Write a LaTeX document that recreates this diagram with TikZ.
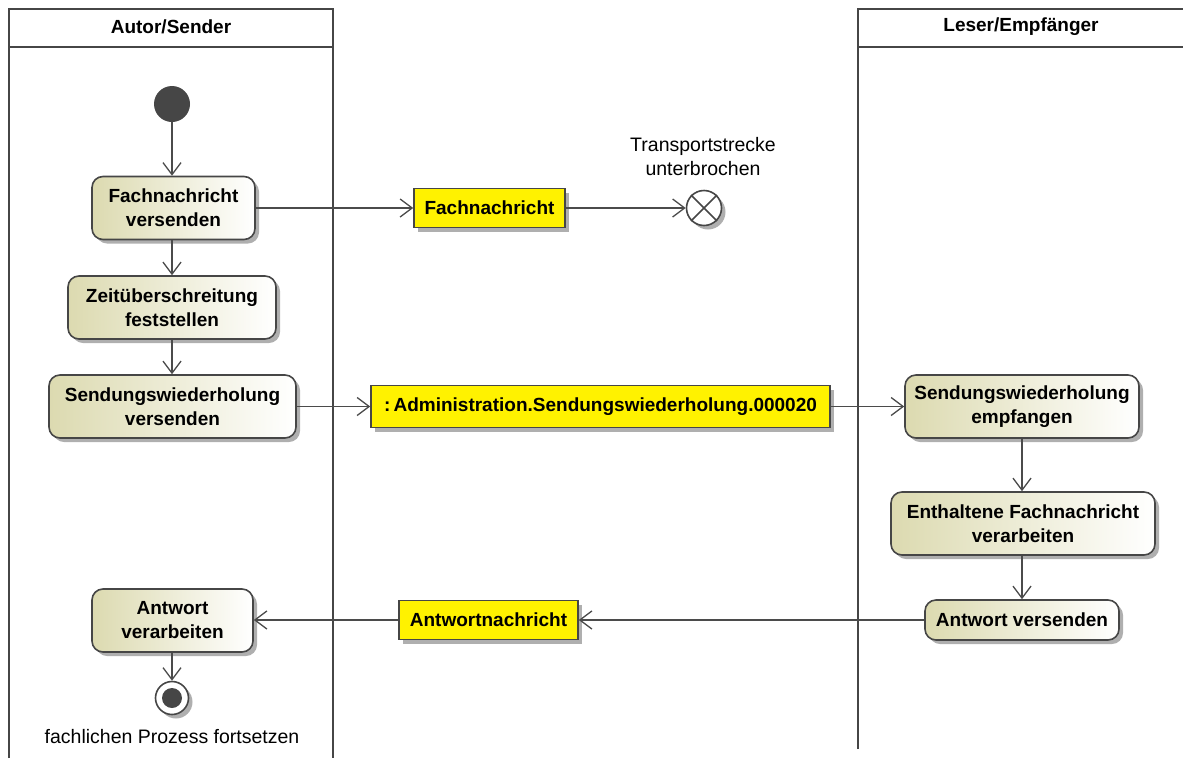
\documentclass[tikz,border=0pt]{standalone}
\usepackage{fontspec}
\setmainfont{Liberation Sans}
\usetikzlibrary{arrows.meta,shadows}
\definecolor{lanecol}{RGB}{70,70,70}
\definecolor{linecol}{RGB}{75,75,75}
\definecolor{actleft}{RGB}{220,218,176}
\definecolor{shadowcol}{RGB}{175,175,175}
\tikzset{
  lane/.style={draw=lanecol, line width=2.6pt},
  shad/.style={drop shadow={shadow xshift=4pt, shadow yshift=-4pt, fill=shadowcol, opacity=1}},
  action/.style={draw=lanecol, line width=1.6pt, rounded corners=11pt, shad,
    left color=actleft, right color=white, align=center,
    font=\fontsize{19}{24}\selectfont\bfseries, inner sep=0pt},
  objnode/.style={draw=lanecol, line width=1.6pt, fill=yellow, shad,
    font=\fontsize{19}{24}\selectfont\bfseries, inner sep=0pt},
  flow/.style={draw=linecol, line width=1.3pt, -{Straight Barb[length=12pt,width=18pt,line width=1.3pt]}},
  plain/.style={font=\fontsize{19.5}{24}\selectfont, align=center},
  hdr/.style={font=\fontsize{19}{24}\selectfont\bfseries}
}
\begin{document}
\begin{tikzpicture}[x=1pt,y=-1pt]
\useasboundingbox (0,0) rectangle (1183,758);
% lanes
\draw[lane] (9,758) -- (9,9) -- (333,9) -- (333,758);
\draw[lane] (9,47) -- (333,47);
\draw[lane] (858,749) -- (858,9) -- (1185,9);
\draw[lane] (858,47) -- (1185,47);
\node[hdr] (h1) at (171,27) {Autor/Sender};
\node[hdr] (h2) at (1021,27) {Leser/Empfänger};
% left lane nodes
\node[circle, fill=lanecol, minimum size=36pt, inner sep=0pt] (start) at (172,104) {};
\node[action, minimum width=163pt, minimum height=63pt] (fv) at (173.5,208) {Fachnachricht\\versenden};
\node[action, minimum width=208pt, minimum height=63pt] (zf) at (172,307.5) {Zeitüberschreitung\\feststellen};
\node[action, minimum width=247pt, minimum height=63pt] (sv) at (172.5,406.5) {Sendungswiederholung\\versenden};
\node[action, minimum width=161pt, minimum height=63pt] (av) at (172.5,620.5) {Antwort\\verarbeiten};
\node[circle, draw=lanecol, line width=1.6pt, fill=white, shad, minimum size=33pt, inner sep=0pt] (end) at (172,698) {};
\node[circle, fill=lanecol, minimum size=20pt, inner sep=0pt] (endin) at (end) {};
\node[plain] (endlbl) at (172,737) {fachlichen Prozess fortsetzen};
% objects
\node[objnode, minimum width=151pt, minimum height=39pt] (o1) at (489.5,208) {Fachnachricht};
\node[objnode, minimum width=459pt, minimum height=42pt] (o2) at (600.5,406.5) {:\,Administration.Sendungswiederholung.000020};
\node[objnode, minimum width=179pt, minimum height=39pt] (o3) at (488.5,620) {Antwortnachricht};
% flow final
\node[circle, draw=lanecol, line width=1.6pt, fill=white, shad, minimum size=35pt, inner sep=0pt] (ff) at (704,208) {};
\draw[draw=lanecol, line width=1.6pt] (ff.north west) -- (ff.south east) (ff.north east) -- (ff.south west);
\node[plain] (fflbl) at (703,157) {Transportstrecke\\unterbrochen};
% right lane nodes
\node[action, minimum width=234pt, minimum height=63pt] (se) at (1022,406.5) {Sendungswiederholung\\empfangen};
\node[action, minimum width=264pt, minimum height=63pt] (ef) at (1023,523.5) {Enthaltene Fachnachricht\\verarbeiten};
\node[action, minimum width=194pt, minimum height=40pt] (avs) at (1022,620) {Antwort versenden};
% connectors
\draw[flow] (start) -- (start |- fv.north);
\draw[flow] (fv.south -| start) -- (start |- zf.north);
\draw[flow] (zf.south -| start) -- (start |- sv.north);
\draw[flow] (fv.east) -- (o1.west);
\draw[flow] (o1.east) -- (ff.west);
\draw[flow] (sv.east) -- (o2.west);
\draw[flow] (o2.east) -- (se.west);
\draw[flow] (se.south) -- (se.south |- ef.north);
\draw[flow] (ef.south -| se.south) -- (se.south |- avs.north);
\draw[flow] (avs.west) -- (o3.east);
\draw[flow] (o3.west) -- (av.east |- o3.west);
\draw[flow] (av.south -| start) -- (end);
\end{tikzpicture}
\end{document}
